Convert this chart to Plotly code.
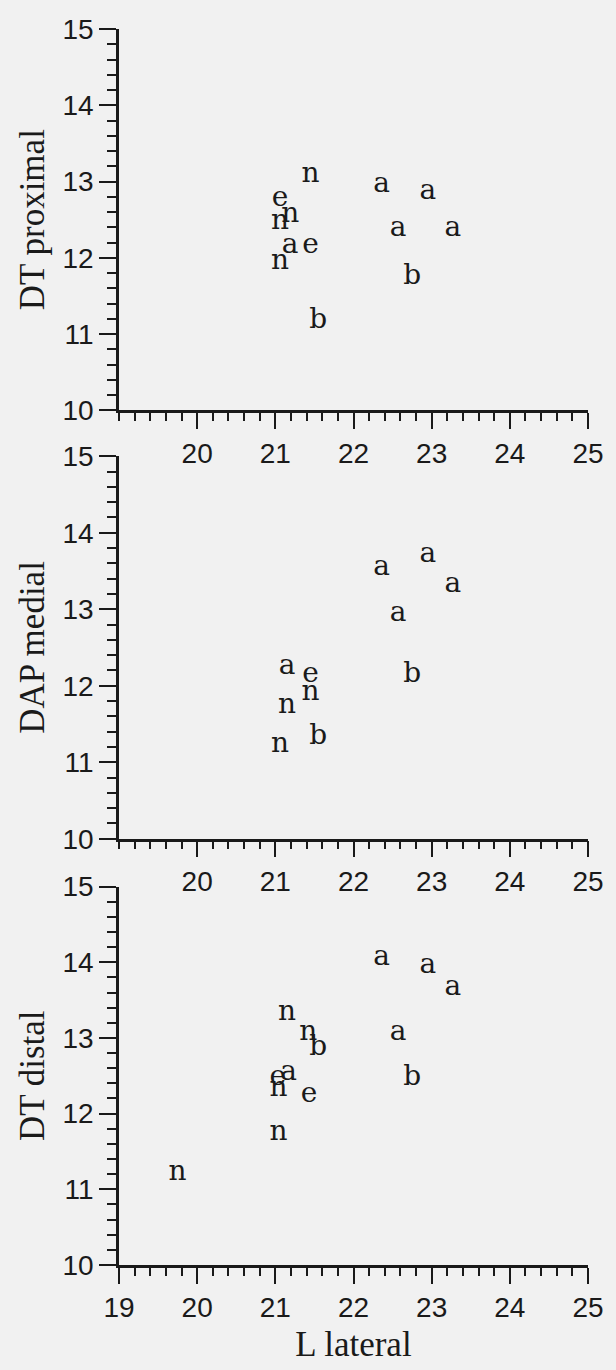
import plotly.graph_objects as go

# ---- data ----
p1_lateral = [21.45, 22.36, 22.95, 21.06, 21.06, 21.19, 21.19, 21.45, 21.06, 22.57, 23.27, 22.75, 21.55]
p1_labels = ['n', 'a', 'a', 'e', 'n', 'n', 'a', 'e', 'n', 'a', 'a', 'b', 'b']
p1_dt_proximal = [13.08, 12.96, 12.86, 12.77, 12.47, 12.56, 12.15, 12.15, 11.95, 12.38, 12.38, 11.75, 11.17]

p2_lateral = [22.36, 22.95, 23.27, 22.57, 22.75, 21.15, 21.45, 21.45, 21.15, 21.55, 21.06]
p2_labels = ['a', 'a', 'a', 'a', 'b', 'a', 'e', 'n', 'n', 'b', 'n']
p2_dap_medial = [13.54, 13.71, 13.32, 12.94, 12.14, 12.24, 12.14, 11.91, 11.74, 11.33, 11.22]

p3_lateral = [22.36, 22.95, 23.27, 21.15, 21.42, 21.55, 22.57, 22.75, 21.03, 21.17, 21.04, 21.43, 21.04, 19.75]
p3_labels = ['a', 'a', 'a', 'n', 'n', 'b', 'a', 'b', 'e', 'a', 'n', 'e', 'n', 'n']
p3_dt_distal = [14.05, 13.95, 13.66, 13.33, 13.07, 12.86, 13.07, 12.47, 12.47, 12.53, 12.33, 12.25, 11.75, 11.22]

x_ticks_upper = [20, 21, 22, 23, 24, 25]
x_ticks_bottom = [19, 20, 21, 22, 23, 24, 25]
y_ticks = [10, 11, 12, 13, 14, 15]
y_titles = ["DT proximal", "DAP medial", "DT distal"]
x_title = "L lateral"

# ---- styling ----
BG = "#f1f1f1"
INK = "#1a1a1a"
tick_font = dict(family="Liberation Sans, Arial, sans-serif", size=28, color=INK)
title_font = dict(family="Liberation Serif, Times New Roman, serif", size=35, color=INK)
letter_font = dict(family="DejaVu Serif, serif", size=28, color=INK)

fig = go.Figure()
panels = [
    (p1_lateral, p1_dt_proximal, p1_labels, "x", "y"),
    (p2_lateral, p2_dap_medial, p2_labels, "x2", "y2"),
    (p3_lateral, p3_dt_distal, p3_labels, "x3", "y3"),
]
for xs, ys, labs, xa, ya in panels:
    fig.add_trace(go.Scatter(
        x=xs, y=ys, text=labs, mode="text",
        textposition="middle center", textfont=letter_font,
        xaxis=xa, yaxis=ya, showlegend=False, hoverinfo="x+y+text",
    ))

H = 1370
top, bottom = 29, 1270
plot_h = bottom - top


def dom(y0, y1):
    return [(bottom - y1) / plot_h, (bottom - y0) / plot_h]


domains = [dom(29, 412), dom(458, 842), dom(890, 1270)]


def xaxis(anchor, ticks, show_title):
    d = dict(
        anchor=anchor, domain=[0, 1], range=[19, 25],
        showline=True, linecolor=INK, linewidth=2.5,
        ticks="outside", ticklen=16, tickwidth=2.2, tickcolor=INK,
        tickvals=ticks, ticktext=[str(t) for t in ticks],
        tickfont=tick_font, showgrid=False, zeroline=False,
        minor=dict(dtick=0.2, tick0=19, ticks="outside", ticklen=8,
                   tickwidth=2, tickcolor=INK, showgrid=False),
    )
    if show_title:
        d["title"] = dict(text=x_title, font=title_font, standoff=10)
    return d


def yaxis(anchor, domain, title):
    return dict(
        anchor=anchor, domain=domain, range=[10, 15],
        showline=True, linecolor=INK, linewidth=2.5,
        ticks="outside", ticklen=17, tickwidth=2.2, tickcolor=INK,
        tickvals=y_ticks, ticktext=[str(t) for t in y_ticks],
        tickfont=tick_font, showgrid=False, zeroline=False,
        minor=dict(dtick=0.2, tick0=10, ticks="outside", ticklen=9,
                   tickwidth=2, tickcolor=INK, showgrid=False),
        title=dict(text=title, font=title_font, standoff=8),
    )


fig.update_layout(
    width=616, height=H,
    margin=dict(l=119, r=27, t=top, b=H - bottom),
    paper_bgcolor=BG, plot_bgcolor=BG,
    xaxis=xaxis("y", x_ticks_upper, False),
    xaxis2=xaxis("y2", x_ticks_upper, False),
    xaxis3=xaxis("y3", x_ticks_bottom, True),
    yaxis=yaxis("x", domains[0], y_titles[0]),
    yaxis2=yaxis("x2", domains[1], y_titles[1]),
    yaxis3=yaxis("x3", domains[2], y_titles[2]),
)

fig.write_html(
    "out.html",
    config={"displayModeBar": False},
    post_script="document.body.style.margin='0';document.body.style.background='%s';" % BG,
)
